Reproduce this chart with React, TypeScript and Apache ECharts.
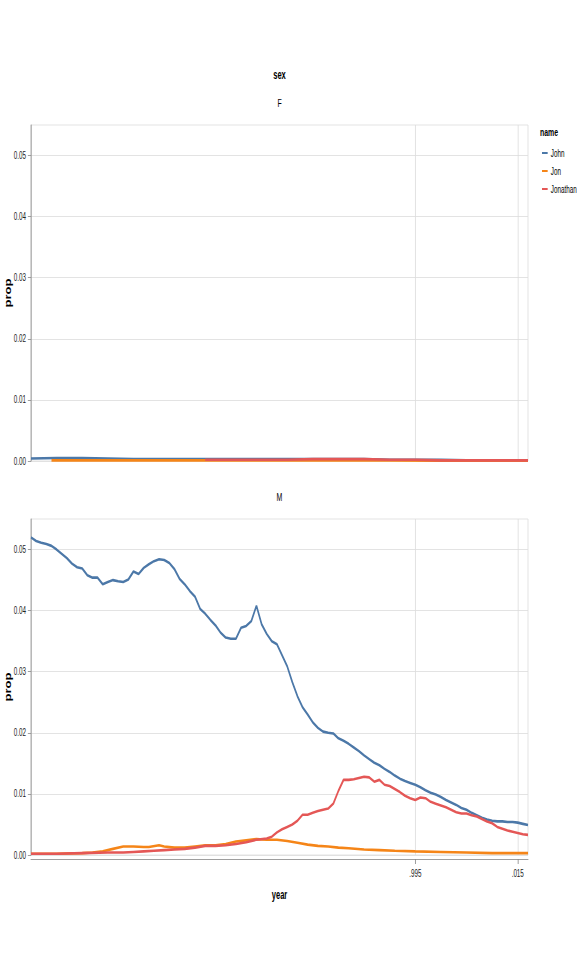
import React, { useEffect, useRef } from 'react';
import * as echarts from 'echarts';

// ---------- data ----------
const names = ['John', 'Jon', 'Jonathan'];
const colors = ['#4c78a8', '#f58518', '#e45756'];
const panels = ['F', 'M'];
const xTickValues = [1995, 2015];
const xTickLabels = ['.995', '.015'];
const yTickValues = [0, 0.01, 0.02, 0.03, 0.04, 0.05];

// F panel
const johnFYears = [1920, 1925, 1930, 1935, 1940, 1945, 1950, 1955, 1960, 1965, 1970, 1975, 1980, 1985, 1990, 1995, 2000, 2005, 2010, 2017];
const johnFProp = [0.0004, 0.0005, 0.0005, 0.0004, 0.0003, 0.0003, 0.0003, 0.0003, 0.0003, 0.0003, 0.0003, 0.0003, 0.0003, 0.0003, 0.0002, 0.0002, 0.0002, 0.0001, 0.0001, 0.0001];
const jonFYears = [1924, 1930, 1940, 1950, 1960, 1970, 1980, 1990, 2000, 2010, 2017];
const jonFProp = [0.0001, 0.0001, 0.0001, 0.0001, 0.0001, 0.0001, 0.0001, 0.0001, 0.00005, 0.00005, 0.00005];
const jonathanFYears = [1954, 1960, 1965, 1970, 1975, 1980, 1985, 1990, 1995, 2000, 2005, 2010, 2017];
const jonathanFProp = [0.0002, 0.0002, 0.0002, 0.0002, 0.0003, 0.0003, 0.0003, 0.0002, 0.0002, 0.0001, 0.0001, 0.0001, 0.0001];

// M panel
const johnMYears = Array.from({ length: 98 }, (_, i) => 1920 + i);
const johnMProp = [
  0.0520, 0.0514, 0.0511, 0.0509, 0.0506, 0.0500, 0.0493, 0.0486, 0.0477, 0.0471,
  0.0469, 0.0458, 0.0454, 0.0454, 0.0443, 0.0447, 0.0450, 0.0448, 0.0447, 0.0451,
  0.0464, 0.0460, 0.0470, 0.0476, 0.0481, 0.0484, 0.0483, 0.0478, 0.0468, 0.0452,
  0.0443, 0.0432, 0.0423, 0.0403, 0.0395, 0.0385, 0.0376, 0.0364, 0.0356, 0.0354,
  0.0354, 0.0372, 0.0375, 0.0383, 0.0408, 0.0378, 0.0362, 0.0350, 0.0345, 0.0327,
  0.0309, 0.0283, 0.0260, 0.0242, 0.0230, 0.0217, 0.0208, 0.0202, 0.0200, 0.0199,
  0.0191, 0.0187, 0.0182, 0.0176, 0.0170, 0.0163, 0.0157, 0.0151, 0.0147, 0.0141,
  0.0136, 0.0130, 0.0125, 0.0121, 0.0118, 0.0115, 0.0111, 0.0106, 0.0102, 0.0099,
  0.0095, 0.0090, 0.0086, 0.0082, 0.0077, 0.0074, 0.0069, 0.0065, 0.0061, 0.0058,
  0.0056, 0.0055, 0.0055, 0.0054, 0.0054, 0.0053, 0.0051, 0.0049,
];
const jonMYears = [1920, 1925, 1930, 1932, 1934, 1936, 1938, 1940, 1942, 1943, 1945, 1946, 1948, 1950, 1952, 1954, 1956, 1958, 1960, 1962, 1964, 1966, 1968, 1970, 1972, 1974, 1976, 1978, 1980, 1982, 1985, 1988, 1991, 1995, 2000, 2005, 2010, 2017];
const jonMProp = [0.0002, 0.0002, 0.0003, 0.0004, 0.0006, 0.0010, 0.0014, 0.0014, 0.0013, 0.0013, 0.0016, 0.0014, 0.0012, 0.0012, 0.0014, 0.0016, 0.0016, 0.0018, 0.0022, 0.0024, 0.0026, 0.0025, 0.0025, 0.0023, 0.0020, 0.0017, 0.0015, 0.0014, 0.0012, 0.0011, 0.0009, 0.0008, 0.0007, 0.0006, 0.0005, 0.0004, 0.0003, 0.0003];
const jonathanMYears = [
  1920, 1925, 1930, 1935, 1938, 1940, 1942, 1944, 1946, 1948, 1950, 1952, 1954, 1956, 1958, 1960, 1962, 1964, 1966, 1967,
  1968, 1969, 1970, 1971, 1972, 1973, 1974, 1975, 1976, 1977, 1978, 1979, 1980, 1981, 1982, 1983, 1984, 1985, 1986, 1987,
  1988, 1989, 1990, 1991, 1992, 1993, 1994, 1995, 1996, 1997, 1998, 1999, 2000, 2001, 2002, 2003, 2004, 2005, 2006, 2007,
  2008, 2009, 2010, 2011, 2012, 2013, 2014, 2015, 2016, 2017,
];
const jonathanMProp = [
  0.0002, 0.0002, 0.0003, 0.0004, 0.0004, 0.0005, 0.0006, 0.0007, 0.0008, 0.0009, 0.0010, 0.0012, 0.0015, 0.0015, 0.0016, 0.0018, 0.0021, 0.0025, 0.0027, 0.0030,
  0.0037, 0.0042, 0.0046, 0.0050, 0.0056, 0.0066, 0.0066, 0.0069, 0.0072, 0.0074, 0.0076, 0.0084, 0.0105, 0.0123, 0.0123, 0.0124, 0.0126, 0.0128, 0.0127, 0.0120,
  0.0123, 0.0115, 0.0113, 0.0108, 0.0103, 0.0097, 0.0093, 0.0090, 0.0094, 0.0093, 0.0087, 0.0084, 0.0081, 0.0078, 0.0074, 0.0070, 0.0068, 0.0068, 0.0065, 0.0063,
  0.0059, 0.0055, 0.0052, 0.0046, 0.0043, 0.0040, 0.0038, 0.0036, 0.0034, 0.0033,
];

const seriesData = [
  [[johnFYears, johnFProp], [jonFYears, jonFProp], [jonathanFYears, jonathanFProp]],
  [[johnMYears, johnMProp], [jonMYears, jonMProp], [jonathanMYears, jonathanMProp]],
];

// ---------- layout ----------
const S = 0.63; // horizontal squeeze of the whole picture
const PAGE_W = 581;
const PAGE_H = 969;
const W = PAGE_W / S;
const FONT = '"Liberation Sans", Arial, sans-serif';
const px = (imageX: number) => imageX / S; // picture x -> chart x
const plotLeft = px(31);
const plotRight = px(528);
const plotTops = [125, 519];
const plotH = 336;
const centerX = (plotLeft + plotRight) / 2;

function buildOption() {
  const grids = panels.map((_, i) => ({
    left: plotLeft,
    width: plotRight - plotLeft,
    top: plotTops[i],
    height: plotH,
    show: true,
    borderColor: '#ddd',
    borderWidth: 1,
    containLabel: false,
    outerBoundsMode: 'none',
  }));

  const xAxes = panels.map((_, i) => {
    const isBottom = i === panels.length - 1;
    return {
      gridIndex: i,
      type: 'value',
      min: 1920,
      max: 2017,
      offset: isBottom ? 4 : 0,
      name: isBottom ? 'year' : '',
      nameLocation: 'middle',
      nameGap: 30,
      nameMoveOverlap: false,
      nameTextStyle: { fontSize: 12, fontWeight: 'bold', color: '#000', fontFamily: FONT },
      axisLine: { show: isBottom, onZero: false, lineStyle: { color: '#888', width: 1 } },
      axisTick: { show: isBottom, length: 5, customValues: xTickValues, lineStyle: { color: '#888' } },
      axisLabel: {
        show: isBottom,
        customValues: xTickValues,
        margin: 9,
        fontSize: 10,
        color: '#222',
        fontFamily: FONT,
        formatter: (v: number) => {
          const k = xTickValues.indexOf(Math.round(v));
          return k >= 0 ? xTickLabels[k] : '';
        },
      },
      splitLine: { show: true, lineStyle: { color: '#ddd', width: 1 } },
    };
  });

  const yAxes = panels.map((_, i) => ({
    gridIndex: i,
    type: 'value',
    min: 0,
    max: 0.055,
    name: 'prop',
    nameLocation: 'middle',
    nameRotate: 90,
    nameGap: 30,
    nameMoveOverlap: false,
    nameTextStyle: { fontSize: 13, fontWeight: 'bold', color: '#000', fontFamily: FONT },
    axisLine: { show: true, lineStyle: { color: '#888', width: 1 } },
    axisTick: { show: true, length: 5, customValues: yTickValues, lineStyle: { color: '#888' } },
    axisLabel: {
      customValues: yTickValues,
      margin: 8,
      fontSize: 10,
      color: '#222',
      fontFamily: FONT,
      formatter: (v: number) => v.toFixed(2),
    },
    splitLine: { show: true, lineStyle: { color: '#ddd', width: 1 } },
  }));

  const series: any[] = [];
  panels.forEach((_, p) => {
    names.forEach((name, k) => {
      const [yrs, vals] = seriesData[p][k];
      series.push({
        type: 'line',
        name,
        xAxisIndex: p,
        yAxisIndex: p,
        data: yrs.map((y, j) => [y, vals[j]]),
        showSymbol: false,
        symbol: 'none',
        color: colors[k],
        lineStyle: { color: colors[k], width: 2.6 },
        z: 2 + k,
      });
    });
  });

  const headerText = (text: string, y: number, size: number, bold: boolean) => ({
    type: 'text',
    x: centerX,
    y,
    style: {
      text,
      fill: '#000',
      fontSize: size,
      fontWeight: bold ? 'bold' : 'normal',
      fontFamily: FONT,
      align: 'center',
      verticalAlign: 'middle',
    },
  });

  return {
    animation: false,
    backgroundColor: '#fff',
    grid: grids,
    xAxis: xAxes,
    yAxis: yAxes,
    series,
    legend: {
      orient: 'vertical',
      left: px(542),
      top: 147,
      padding: 0,
      itemWidth: 9,
      itemHeight: 2,
      itemGap: 6,
      icon: 'rect',
      data: names,
      textStyle: { fontSize: 10, lineHeight: 12, color: '#000', fontFamily: FONT },
    },
    graphic: [
      headerText('sex', 75, 12, true),
      headerText(panels[0], 103, 11, false),
      headerText(panels[1], 497, 11, false),
      {
        type: 'text',
        x: px(540),
        y: 132,
        style: {
          text: 'name',
          fill: '#000',
          fontSize: 11,
          fontWeight: 'bold',
          fontFamily: FONT,
          align: 'left',
          verticalAlign: 'middle',
        },
      },
    ],
  };
}

export default function App() {
  const ref = useRef<HTMLDivElement>(null);
  useEffect(() => {
    if (!ref.current) return;
    const chart = echarts.init(ref.current, null, { renderer: 'svg' });
    chart.setOption(buildOption() as any);
    return () => chart.dispose();
  }, []);
  return (
    <div
      style={{
        position: 'fixed',
        left: 0,
        top: 0,
        width: PAGE_W,
        height: PAGE_H,
        overflow: 'hidden',
        background: '#fff',
      }}
    >
      <div
        ref={ref}
        style={{ width: W, height: PAGE_H, transform: `scaleX(${S})`, transformOrigin: '0 0' }}
      />
    </div>
  );
}
